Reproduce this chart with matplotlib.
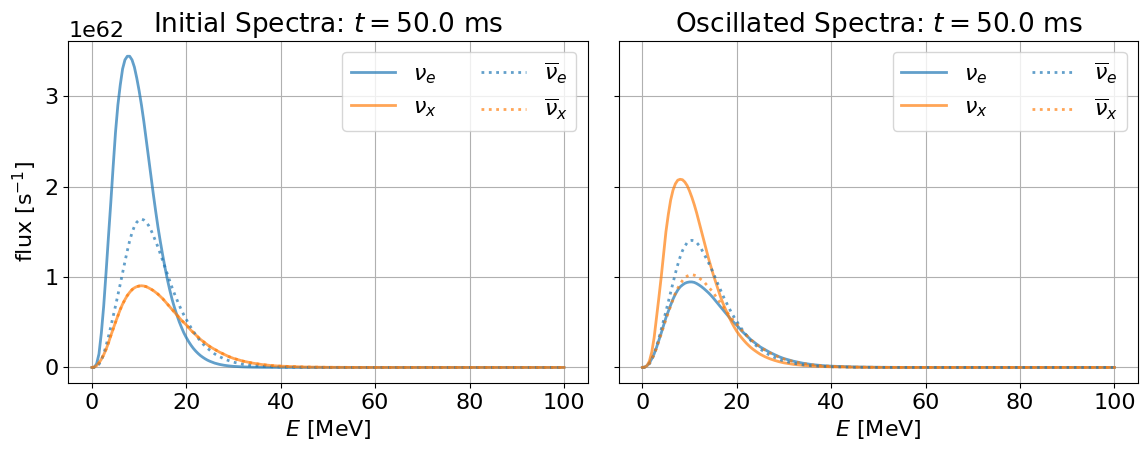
import matplotlib
matplotlib.use("Agg")
import matplotlib.pyplot as plt

# Energy grid [MeV]
E = [0, 0.5, 1, 1.5, 2, 2.5, 3, 3.5, 4, 4.5, 5, 5.5, 6, 6.5, 7, 7.5, 8, 8.5, 9, 9.5,
     10, 10.5, 11, 11.5, 12, 12.5, 13, 13.5, 14, 14.5, 15, 15.5, 16, 16.5, 17, 17.5,
     18, 18.5, 19, 19.5, 20, 20.5, 21, 21.5, 22, 22.5, 23, 23.5, 24, 24.5, 25,
     26, 27, 28, 29, 30, 32, 34, 36, 38, 40,
     45, 50, 55, 60, 65, 70, 75, 80, 85, 90, 95, 100]

# Initial spectra (units of 1e62 s^-1)
init_nue = [0, 0.002, 0.04, 0.15, 0.38, 0.68, 1.05, 1.44, 1.82, 2.22, 2.6, 2.9, 3.12,
            3.3, 3.4, 3.44, 3.44, 3.4, 3.32, 3.2, 3.06, 2.9, 2.72, 2.52, 2.32, 2.12,
            1.92, 1.73, 1.55, 1.39, 1.24, 1.1, 0.97,
            0.855, 0.75, 0.66, 0.58, 0.505, 0.44, 0.38, 0.33, 0.285, 0.245, 0.21,
            0.18, 0.154, 0.131, 0.112, 0.095, 0.08, 0.068,
            0.048, 0.034, 0.024, 0.017, 0.012,
            0.006, 0.003, 0.0014, 0.0007, 0.0003,
            0, 0, 0, 0, 0, 0, 0, 0, 0, 0, 0, 0]
init_nux = [0, 0.004, 0.02, 0.05, 0.09, 0.14, 0.2, 0.27, 0.35, 0.425, 0.5, 0.57, 0.64,
            0.7, 0.75, 0.795, 0.83, 0.86, 0.88, 0.893, 0.9, 0.903, 0.9, 0.893, 0.88,
            0.866, 0.85, 0.83, 0.81, 0.785, 0.76, 0.73, 0.7,
            0.67, 0.64, 0.61, 0.58, 0.55, 0.52, 0.495, 0.47, 0.44, 0.41, 0.385, 0.36,
            0.335, 0.31, 0.29, 0.27, 0.25, 0.23,
            0.2, 0.17, 0.145, 0.12, 0.1,
            0.07, 0.048, 0.032, 0.021, 0.014,
            0.005, 0.0015, 0.0005, 0.0001, 0, 0, 0, 0, 0, 0, 0, 0]
init_nuebar = [0, 0.001, 0.01, 0.035, 0.08, 0.15, 0.24, 0.34, 0.45, 0.565, 0.68, 0.8,
               0.92, 1.045, 1.17, 1.29, 1.4, 1.49, 1.56, 1.605, 1.63, 1.64, 1.63,
               1.605, 1.57, 1.52, 1.46, 1.395, 1.33, 1.255, 1.18, 1.105, 1.03,
               0.955, 0.88, 0.813, 0.75, 0.688, 0.63, 0.578, 0.53, 0.483, 0.44, 0.398,
               0.36, 0.324, 0.29, 0.261, 0.235, 0.211, 0.19,
               0.15, 0.12, 0.095, 0.075, 0.058,
               0.035, 0.021, 0.012, 0.007, 0.004,
               0.001, 0.0003, 0, 0, 0, 0, 0, 0, 0, 0, 0, 0]
init_nuxbar = [0, 0.004, 0.02, 0.05, 0.09, 0.14, 0.2, 0.27, 0.35, 0.425, 0.5, 0.57,
               0.64, 0.7, 0.75, 0.795, 0.83, 0.86, 0.88, 0.893, 0.9, 0.903, 0.9,
               0.893, 0.88, 0.866, 0.85, 0.83, 0.81, 0.785, 0.76, 0.73, 0.7,
               0.67, 0.64, 0.61, 0.58, 0.55, 0.52, 0.495, 0.47, 0.44, 0.41, 0.385,
               0.36, 0.335, 0.31, 0.29, 0.27, 0.25, 0.23,
               0.2, 0.17, 0.145, 0.12, 0.1,
               0.07, 0.048, 0.032, 0.021, 0.014,
               0.005, 0.0015, 0.0005, 0.0001, 0, 0, 0, 0, 0, 0, 0, 0]

# Oscillated spectra (units of 1e62 s^-1)
osc_nue = [0, 0.004, 0.02, 0.05, 0.096, 0.15, 0.22, 0.3, 0.38, 0.465, 0.55, 0.62, 0.69,
           0.755, 0.81, 0.855, 0.89, 0.912, 0.93, 0.94, 0.945, 0.945, 0.94, 0.928,
           0.912, 0.894, 0.873, 0.85, 0.826, 0.799, 0.77, 0.738, 0.706,
           0.674, 0.643, 0.611, 0.58, 0.549, 0.518, 0.492, 0.467, 0.437, 0.406,
           0.381, 0.356, 0.331, 0.306, 0.286, 0.266, 0.246, 0.226,
           0.196, 0.167, 0.142, 0.118, 0.098,
           0.069, 0.047, 0.031, 0.021, 0.014,
           0.005, 0.0015, 0.0005, 0.0001, 0, 0, 0, 0, 0, 0, 0, 0]
osc_nux = [0, 0.002, 0.02, 0.07, 0.17, 0.33, 0.55, 0.77, 1.0, 1.25, 1.5, 1.69, 1.85,
           1.96, 2.03, 2.07, 2.08, 2.075, 2.05, 2.01, 1.95, 1.88, 1.8, 1.71, 1.61,
           1.51, 1.41, 1.31, 1.21, 1.12, 1.03, 0.95, 0.87,
           0.79, 0.72, 0.657, 0.6, 0.543, 0.49, 0.443, 0.4, 0.363, 0.33, 0.299, 0.27,
           0.244, 0.22, 0.199, 0.18, 0.162, 0.145,
           0.118, 0.096, 0.078, 0.063, 0.051,
           0.034, 0.023, 0.015, 0.01, 0.007,
           0.0025, 0.0008, 0.0002, 0, 0, 0, 0, 0, 0, 0, 0, 0]
osc_nuebar = [0, 0.002, 0.013, 0.04, 0.083, 0.15, 0.23, 0.32, 0.42, 0.52, 0.62, 0.725,
              0.83, 0.935, 1.04, 1.135, 1.22, 1.29, 1.34, 1.38, 1.4, 1.405, 1.4, 1.38,
              1.35, 1.31, 1.26, 1.21, 1.16, 1.105, 1.05, 0.985, 0.924,
              0.864, 0.803, 0.748, 0.696, 0.644, 0.594, 0.551, 0.51, 0.469, 0.43,
              0.394, 0.36, 0.327, 0.296, 0.27, 0.246, 0.223, 0.203,
              0.166, 0.136, 0.111, 0.089, 0.071,
              0.046, 0.029, 0.018, 0.012, 0.0075,
              0.0023, 0.0007, 0.0002, 0, 0, 0, 0, 0, 0, 0, 0, 0]
osc_nuxbar = [0, 0.004, 0.018, 0.045, 0.088, 0.145, 0.21, 0.29, 0.37, 0.45, 0.53, 0.605,
              0.68, 0.75, 0.82, 0.875, 0.92, 0.96, 0.99, 1.01, 1.02, 1.025, 1.02, 1.01,
              0.99, 0.97, 0.95, 0.92, 0.89, 0.86, 0.83, 0.79, 0.753,
              0.716, 0.679, 0.642, 0.607, 0.572, 0.538, 0.508, 0.48, 0.447, 0.414,
              0.387, 0.36, 0.333, 0.306, 0.286, 0.265, 0.244, 0.223,
              0.192, 0.162, 0.137, 0.112, 0.093,
              0.065, 0.044, 0.029, 0.019, 0.012,
              0.0042, 0.0013, 0.0004, 0.0001, 0, 0, 0, 0, 0, 0, 0, 0]

SCALE = 1e62
labels = [r"$\nu_e$", r"$\nu_x$", r"$\overline{\nu}_e$", r"$\overline{\nu}_x$"]
titles = [r"Initial Spectra: $t = 50.0$ ms", r"Oscillated Spectra: $t = 50.0$ ms"]

plt.rcParams["font.size"] = 16

fig, axes = plt.subplots(1, 2, figsize=(11.48, 4.51), dpi=100, sharey=True)
datasets = [
    (init_nue, init_nux, init_nuebar, init_nuxbar),
    (osc_nue, osc_nux, osc_nuebar, osc_nuxbar),
]
for ax, data, title in zip(axes, datasets, titles):
    nue, nux, nueb, nuxb = data
    ax.plot(E, [v * SCALE for v in nue], color="C0", lw=2, alpha=0.7, label=labels[0])
    ax.plot(E, [v * SCALE for v in nux], color="C1", lw=2, alpha=0.7, label=labels[1])
    ax.plot(E, [v * SCALE for v in nueb], color="C0", lw=2, ls=":", alpha=0.7, label=labels[2])
    ax.plot(E, [v * SCALE for v in nuxb], color="C1", lw=2, ls=":", alpha=0.7, label=labels[3])
    ax.set_title(title, fontsize=19)
    ax.set_xlabel(r"$E$ [MeV]", fontsize=16)
    ax.grid(True)
    ax.legend(ncol=2, loc="upper right", fontsize=16)
    ax.tick_params(labelsize=16)

axes[0].set_ylabel(r"flux [s$^{-1}$]", fontsize=16)

fig.subplots_adjust(left=68.3 / 1148, right=1138 / 1148, bottom=1 - 383 / 451,
                    top=1 - 40.7 / 451, wspace=0.06)
fig.savefig("out.png", dpi=100)
